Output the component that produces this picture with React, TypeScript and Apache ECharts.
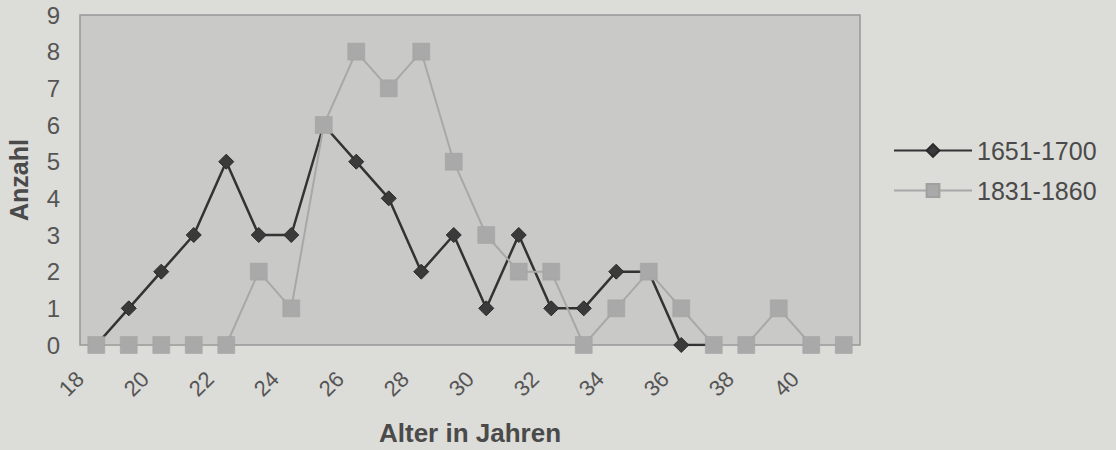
import React, { useEffect, useRef } from "react";
import * as echarts from "echarts";

const ages = ["18","19","20","21","22","23","24","25","26","27","28","29","30","31","32","33","34","35","36","37","38","39","40","41"];
const series1651 = [0,1,2,3,5,3,3,6,5,4,2,3,1,3,1,1,2,2,0,0];
const series1831 = [0,0,0,0,0,2,1,6,8,7,8,5,3,2,2,0,1,2,1,0,0,1,0,0];
const yTicks = [0, 9, 1];

export default function App() {
  const ref = useRef<HTMLDivElement>(null);
  useEffect(() => {
    const chart = echarts.init(ref.current!, null, { renderer: "svg" });
    chart.setOption({
      animation: false,
      backgroundColor: "#dcdcd8",
      textStyle: { fontFamily: "Liberation Sans, Arial, sans-serif" },
      grid: {
        left: 80, right: 256, top: 15, bottom: 105,
        outerBoundsMode: "none",
        show: true, backgroundColor: "#c9c9c8", borderColor: "#979797", borderWidth: 1.5,
      },
      legend: {
        orient: "vertical", left: 893, top: 138, padding: 0,
        itemWidth: 78, itemHeight: 16, itemGap: 15,
        textStyle: { fontSize: 25, color: "#4a4a4a" },
        data: ["1651-1700", "1831-1860"],
      },
      xAxis: {
        type: "category", data: ages, boundaryGap: true,
        name: "Alter in Jahren", nameLocation: "middle", nameGap: 75,
        nameTextStyle: { fontSize: 26, fontWeight: "bold", color: "#4a4a4a" },
        axisLine: { show: false }, axisTick: { show: false },
        axisLabel: { interval: 1, rotate: 45, fontSize: 22, color: "#555", margin: 14, padding: [0, 23, 0, 0] },
        splitLine: { show: false },
      },
      yAxis: {
        type: "value", min: yTicks[0], max: yTicks[1], interval: yTicks[2],
        name: "Anzahl", nameLocation: "middle", nameGap: 49, nameRotate: 90,
        nameTextStyle: { fontSize: 25, fontWeight: "bold", color: "#4a4a4a" },
        axisLine: { show: false }, axisTick: { show: false },
        axisLabel: { fontSize: 24, color: "#555", margin: 20 },
        splitLine: { show: false },
      },
      series: [
        {
          name: "1651-1700", type: "line", data: series1651,
          symbol: "diamond", symbolSize: 15,
          lineStyle: { color: "#333", width: 2.5 },
          itemStyle: { color: "#3a3a3a", borderColor: "#2a2a2a", borderWidth: 1 },
        },
        {
          name: "1831-1860", type: "line", data: series1831,
          symbol: "rect", symbolSize: 17,
          lineStyle: { color: "#a8a8a8", width: 2 },
          itemStyle: { color: "#a9a9a9", borderColor: "#a0a0a0", borderWidth: 0.5 },
        },
      ],
    });
    return () => chart.dispose();
  }, []);
  return <div ref={ref} style={{ width: 1116, height: 450, position: "absolute", left: 0, top: 0 }} />;
}
